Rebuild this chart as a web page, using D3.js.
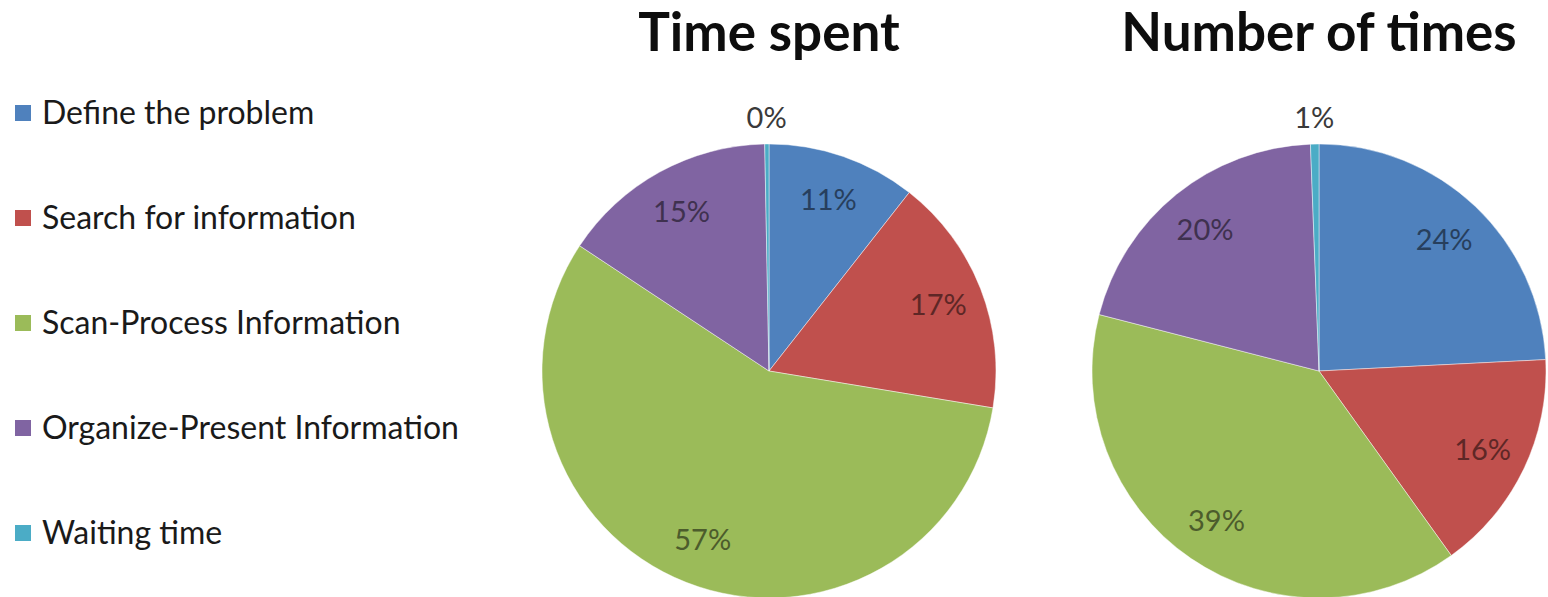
<!DOCTYPE html>
<html>
<head>
<meta charset="utf-8">
<script src="https://cdn.jsdelivr.net/npm/d3@7"></script>
<style>
  body { margin: 0; background: #fff; overflow: hidden; }
  text { font-family: Lato, "Open Sans", sans-serif; }
</style>
</head>
<body>
<div id="chart"></div>
<script>
// categories in legend order (also slice order, clockwise from 12 o'clock)
const categories = ["Define the problem", "Search for information", "Scan-Process Information", "Organize-Present Information", "Waiting time"];
const sliceColors = ["#4F81BD", "#C0504D", "#9BBB59", "#8064A2", "#4BACC6"];

// percentages
const timeSpent = [10.6, 17.0, 56.7, 15.4, 0.3];
const numberOfTimes = [24.2, 15.9, 38.9, 20.4, 0.6];

const chartTitles = ["Time spent", "Number of times"];
const seriesList = [timeSpent, numberOfTimes];

const width = 1548, height = 597;

const svg = d3.select("#chart")
    .append("svg")
    .attr("width", width)
    .attr("height", height);

// legend
const legendY = d3.scalePoint()
    .domain(categories)
    .range([113, 533]);

const legend = svg.append("g");
const rows = legend.selectAll("g")
    .data(categories)
    .enter()
    .append("g")
    .attr("transform", d => "translate(15," + legendY(d) + ")");

rows.append("rect")
    .attr("x", 0)
    .attr("y", -8)
    .attr("width", 16)
    .attr("height", 16)
    .attr("fill", (d, i) => sliceColors[i]);

rows.append("text")
    .attr("x", 27)
    .attr("y", 0)
    .attr("dy", "0.35em")
    .style("font-size", "32px")
    .style("fill", "#1a1a1a")
    .text(d => d);

// pies
const pieCenters = d3.scalePoint()
    .domain(chartTitles)
    .range([769, 1319]);

const radius = 227;
const pie = d3.pie().sort(null).value(d => d);
const arc = d3.arc().innerRadius(0).outerRadius(radius);
const labelArc = d3.arc().innerRadius(radius * 0.8).outerRadius(radius * 0.8);
const outsideArc = d3.arc().innerRadius(radius + 26).outerRadius(radius + 26);

chartTitles.forEach((title, k) => {
    const values = seriesList[k];
    const total = d3.sum(values);
    const g = svg.append("g")
        .attr("transform", "translate(" + pieCenters(title) + ",371)");

    svg.append("text")
        .attr("x", pieCenters(title))
        .attr("y", 51)
        .attr("text-anchor", "middle")
        .style("font-size", "53px")
        .style("font-weight", "bold")
        .style("fill", "#0d0d0d")
        .text(title);

    const arcs = pie(values);

    g.selectAll("path")
        .data(arcs)
        .enter()
        .append("path")
        .attr("d", arc)
        .attr("fill", (d, i) => sliceColors[i])
        .attr("stroke", "rgba(255,255,255,0.45)")
        .attr("stroke-width", 1);

    g.selectAll(".lbl")
        .data(arcs)
        .enter()
        .append("text")
        .attr("class", "lbl")
        .attr("transform", d => {
            const small = d.data / total < 0.02;
            const c = small ? outsideArc.centroid(d) : labelArc.centroid(d);
            return "translate(" + c + ")";
        })
        .attr("text-anchor", "middle")
        .attr("dy", "0.35em")
        .style("font-size", "29px")
        .style("fill", (d, i) => d.data / total < 0.02 ? "#3a3a3a" : d3.color(sliceColors[i]).darker(2))
        .text(d => d3.format(".0%")(d.data / total));
});
</script>
</body>
</html>
